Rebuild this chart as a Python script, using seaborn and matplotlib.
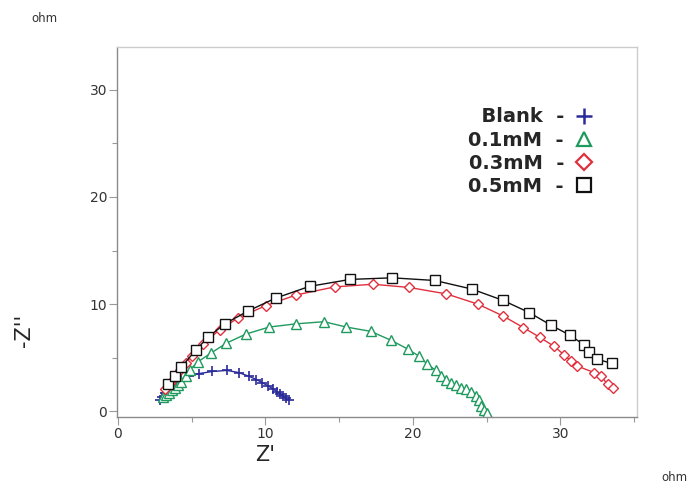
import numpy as np
import pandas as pd
import matplotlib
matplotlib.use('Agg')
import matplotlib.pyplot as plt
from matplotlib.lines import Line2D
from matplotlib.ticker import MultipleLocator
import seaborn as sns

# Nyquist data (Z' and -Z'' in ohm)
blank_x = [2.85, 3.0, 3.2, 3.4, 3.65, 3.9, 4.3, 4.8, 5.5, 6.4, 7.4, 8.2, 8.9, 9.4, 9.8,
           10.2, 10.5, 10.8, 11.0, 11.2, 11.4, 11.6]
blank_y = [1.05, 1.35, 1.7, 2.0, 2.3, 2.6, 2.95, 3.25, 3.5, 3.7, 3.8, 3.6, 3.25, 2.95, 2.65,
           2.35, 2.1, 1.8, 1.6, 1.4, 1.2, 1.0]

c01_x = [3.05, 3.3, 3.5, 3.7, 3.86, 4.05, 4.3, 4.6, 4.88, 5.43, 6.35, 7.37, 8.7, 10.26,
         12.07, 13.98, 15.5, 17.15, 18.55, 19.65, 20.4, 20.97, 21.56, 21.9, 22.27, 22.6,
         22.96, 23.3, 23.6, 23.97, 24.3, 24.47, 24.6, 24.8, 25.0]
c01_y = [1.35, 1.55, 1.7, 1.95, 2.15, 2.45, 2.75, 3.3, 3.85, 4.6, 5.45, 6.35, 7.2, 7.85,
         8.15, 8.35, 7.85, 7.45, 6.6, 5.8, 5.15, 4.4, 3.8, 3.3, 2.9, 2.6,
         2.4, 2.2, 2.05, 1.75, 1.45, 1.0, 0.5, 0.15, -0.15]

c03_x = [3.2, 3.53, 3.86, 4.2, 4.6, 5.0, 5.78, 6.9, 8.16, 10.03, 12.1, 14.7, 17.3, 19.75,
         22.27, 24.4, 26.1, 27.5, 28.6, 29.58, 30.26, 30.7, 31.16, 32.3, 32.75, 33.2, 33.58]
c03_y = [2.05, 2.6, 3.2, 3.85, 4.5, 5.15, 6.25, 7.6, 8.7, 9.85, 10.85, 11.6, 11.85, 11.55,
         10.95, 10.0, 8.9, 7.8, 6.9, 6.05, 5.25, 4.7, 4.2, 3.6, 3.3, 2.5, 2.15]

c05_x = [3.4, 3.86, 4.3, 5.29, 6.12, 7.25, 8.83, 10.7, 13.0, 15.75, 18.6, 21.5,
         24.0, 26.1, 27.9, 29.4, 30.64, 31.6, 31.93, 32.5, 33.5]
c05_y = [2.5, 3.3, 4.1, 5.7, 6.9, 8.15, 9.35, 10.55, 11.65, 12.3, 12.45, 12.2,
         11.4, 10.35, 9.2, 8.0, 7.1, 6.2, 5.5, 4.85, 4.45]

series = [
    ('Blank', blank_x, blank_y, '#2b2b9a', 'P', 7),
    ('0.1mM', c01_x, c01_y, '#1f9a5e', '^', 6.5),
    ('0.3mM', c03_x, c03_y, '#e0303e', 'D', 5),
    ('0.5mM', c05_x, c05_y, '#111111', 's', 7),
]

sns.set_style('white')
plt.rcParams['font.family'] = ['DejaVu Sans']

fig = plt.figure(figsize=(6.9, 4.88), dpi=100)
ax = fig.add_axes([0.1696, 0.1455, 0.7536, 0.758])

for name, xs, ys, col, mk, ms in series:
    df = pd.DataFrame({'x': xs, 'y': ys})
    if mk == 'P':
        sns.lineplot(data=df, x='x', y='y', sort=False, estimator=None, ax=ax,
                     color=col, lw=1.0, marker='+', markersize=ms, markeredgewidth=1.2,
                     markeredgecolor=col)
    else:
        sns.lineplot(data=df, x='x', y='y', sort=False, estimator=None, ax=ax,
                     color=col, lw=1.0, marker=mk, markersize=ms, markeredgewidth=1.0,
                     markerfacecolor='white', markeredgecolor=col)

ax.set_xlim(-0.05, 35.2)
ax.set_ylim(-0.55, 34.0)
ax.xaxis.set_major_locator(MultipleLocator(10))
ax.xaxis.set_minor_locator(MultipleLocator(5))
ax.yaxis.set_major_locator(MultipleLocator(10))
ax.yaxis.set_minor_locator(MultipleLocator(5))
ax.tick_params(which='major', direction='out', length=6, width=0.8, color='#999999',
               labelsize=10, labelcolor='#333333', pad=1, bottom=True, left=True)
ax.tick_params(which='minor', direction='out', length=3.5, width=0.8, color='#999999',
               bottom=True, left=True)
ax.set_xlabel('')
ax.set_ylabel('')
for side in ['left', 'bottom']:
    ax.spines[side].set_color('#8a8a8a')
    ax.spines[side].set_linewidth(1.0)
for side in ['top', 'right']:
    ax.spines[side].set_color('#cccccc')
    ax.spines[side].set_linewidth(1.0)

fig.text(0.384, 0.068, "Z'", fontsize=15, ha='center', va='center')
fig.text(0.035, 0.324, "-Z''", fontsize=15, ha='center', va='center', rotation=90)
fig.text(0.065, 0.962, 'ohm', fontsize=8.5, ha='center', va='center', color='#333333')
fig.text(0.978, 0.022, 'ohm', fontsize=8.5, ha='center', va='center', color='#333333')

handles = []
labels = ['  Blank  -', '0.1mM  -', '0.3mM  -', '0.5mM  -']
for (name, xs, ys, col, mk, ms) in series:
    if mk == 'P':
        h = Line2D([], [], ls='none', marker='+', markersize=12, markeredgewidth=1.8,
                   color=col)
    else:
        h = Line2D([], [], ls='none', marker=mk,
                   markersize=10 if mk != 'D' else 8, markeredgewidth=1.6,
                   markerfacecolor='white', markeredgecolor=col)
    handles.append(h)
fig.legend(handles, labels, loc='upper right', bbox_to_anchor=(0.875, 0.80),
           frameon=False, markerfirst=False, borderpad=0, handlelength=1.0,
           handletextpad=0.55, labelspacing=0.22,
           prop={'weight': 'bold', 'size': 14, 'family': 'DejaVu Sans'})

fig.savefig('out.png', dpi=100)
